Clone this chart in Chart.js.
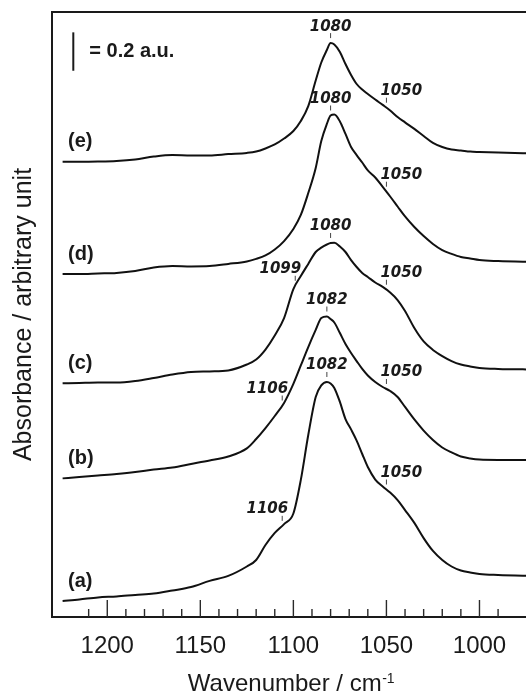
<!DOCTYPE html>
<html>
<head>
<meta charset="utf-8">
<title>IR spectra</title>
<script src="https://cdn.jsdelivr.net/npm/chart.js@4.4.1/dist/chart.umd.min.js"></script>
<style>
  html, body { margin: 0; padding: 0; background: #ffffff; overflow: hidden; }
  #wrap { position: relative; width: 526px; height: 693px; }
</style>
</head>
<body>
<div id="wrap"><canvas id="spectra"></canvas></div>
<script>
// Wavenumber grid (cm-1) shared by all traces
const wavenumbers = [1224, 1215, 1205, 1195, 1185, 1175, 1165, 1155, 1145, 1135, 1125, 1120, 1115, 1110, 1105,
  1100, 1096, 1092, 1088, 1085, 1082, 1080, 1078, 1075, 1072, 1069, 1066, 1063, 1060, 1056, 1052,
  1048, 1044, 1040, 1035, 1030, 1025, 1020, 1015, 1010, 1005, 1000, 990, 970];

// Absorbance traces (a.u.), stacked with vertical offsets for display
const traceA = [0.083, 0.091, 0.102, 0.107, 0.115, 0.122, 0.138, 0.156, 0.188, 0.214, 0.263, 0.297, 0.375, 0.438, 0.484,
  0.539, 0.714, 0.948, 1.146, 1.206, 1.224, 1.216, 1.193, 1.120, 1.031, 0.977, 0.919, 0.849, 0.781, 0.716, 0.680,
  0.648, 0.609, 0.557, 0.490, 0.411, 0.344, 0.297, 0.263, 0.242, 0.232, 0.224, 0.219, 0.214];
const traceB = [0.722, 0.729, 0.737, 0.745, 0.755, 0.768, 0.779, 0.797, 0.815, 0.836, 0.878, 0.927, 0.984, 1.047, 1.115,
  1.214, 1.310, 1.406, 1.495, 1.557, 1.565, 1.552, 1.534, 1.479, 1.422, 1.375, 1.333, 1.292, 1.258, 1.224, 1.198,
  1.177, 1.146, 1.094, 1.029, 0.971, 0.922, 0.883, 0.857, 0.836, 0.826, 0.820, 0.818, 0.818];
const traceC = [1.217, 1.219, 1.221, 1.221, 1.229, 1.245, 1.263, 1.276, 1.279, 1.284, 1.315, 1.341, 1.393, 1.466, 1.557,
  1.708, 1.776, 1.839, 1.901, 1.924, 1.940, 1.948, 1.949, 1.930, 1.901, 1.859, 1.823, 1.792, 1.771, 1.742, 1.719,
  1.690, 1.651, 1.594, 1.505, 1.435, 1.391, 1.359, 1.333, 1.315, 1.305, 1.297, 1.292, 1.289];
const traceD = [1.786, 1.786, 1.789, 1.792, 1.802, 1.820, 1.828, 1.826, 1.828, 1.839, 1.852, 1.865, 1.883, 1.914, 1.958,
  2.021, 2.094, 2.208, 2.339, 2.479, 2.568, 2.612, 2.617, 2.581, 2.516, 2.448, 2.406, 2.367, 2.326, 2.289, 2.240,
  2.190, 2.138, 2.086, 2.031, 1.984, 1.943, 1.911, 1.891, 1.875, 1.867, 1.859, 1.854, 1.849];
const traceE = [2.371, 2.371, 2.372, 2.375, 2.383, 2.398, 2.406, 2.404, 2.404, 2.411, 2.417, 2.424, 2.440, 2.461, 2.492,
  2.531, 2.583, 2.661, 2.794, 2.888, 2.953, 2.989, 2.982, 2.943, 2.880, 2.823, 2.776, 2.747, 2.724, 2.695, 2.667,
  2.638, 2.604, 2.576, 2.542, 2.505, 2.469, 2.448, 2.435, 2.430, 2.424, 2.422, 2.419, 2.414];

const traces = [traceA, traceB, traceC, traceD, traceE];
const traceNames = ['(a)', '(b)', '(c)', '(d)', '(e)'];

// Band positions marked above each trace (index into traces, wavenumber, which side the number sits)
const bandMarks = [
  { trace: 4, wn: 1080, side: 'center' },
  { trace: 4, wn: 1050, side: 'right' },
  { trace: 3, wn: 1080, side: 'center' },
  { trace: 3, wn: 1050, side: 'right' },
  { trace: 2, wn: 1099, side: 'left' },
  { trace: 2, wn: 1080, side: 'center' },
  { trace: 2, wn: 1050, side: 'right' },
  { trace: 1, wn: 1106, side: 'left' },
  { trace: 1, wn: 1082, side: 'center' },
  { trace: 1, wn: 1050, side: 'right' },
  { trace: 0, wn: 1106, side: 'left' },
  { trace: 0, wn: 1082, side: 'center' },
  { trace: 0, wn: 1050, side: 'right' }
];

// Intensity scale bar
const scaleBarSize = 0.2;
const scaleBarTop = 3.045;

const INK = '#1a1a1a';
const SANS = "'Liberation Sans', Arial, Helvetica, sans-serif";

function valueAt(values, wn) {
  for (let i = 0; i < wavenumbers.length - 1; i++) {
    const w0 = wavenumbers[i], w1 = wavenumbers[i + 1];
    if (wn <= w0 && wn >= w1) {
      const t = (w0 - wn) / (w0 - w1);
      return values[i] + t * (values[i + 1] - values[i]);
    }
  }
  return values[values.length - 1];
}

const decorations = {
  id: 'decorations',
  afterDatasetsDraw(chart) {
    const { ctx, chartArea: ca, scales: { x, y } } = chart;
    ctx.save();

    // frame (left, top, bottom)
    ctx.strokeStyle = INK;
    ctx.lineWidth = 2;
    ctx.beginPath();
    ctx.moveTo(ca.right + 4, ca.top);
    ctx.lineTo(ca.left, ca.top);
    ctx.lineTo(ca.left, ca.bottom);
    ctx.lineTo(ca.right + 4, ca.bottom);
    ctx.stroke();

    // inward tick marks: long every 50, short every 10
    ctx.strokeStyle = '#2a2a2a';
    ctx.lineWidth = 1.4;
    x.ticks.forEach(t => {
      const v = Math.round(t.value);
      if (Math.abs(t.value - v) > 1e-6 || v % 10 !== 0) return;
      const px = x.getPixelForValue(v);
      if (px <= ca.left + 2 || px >= ca.right) return;
      const len = v % 50 === 0 ? 17 : 8;
      ctx.beginPath();
      ctx.moveTo(px, ca.bottom);
      ctx.lineTo(px, ca.bottom - len);
      ctx.stroke();
    });

    // trace labels at the left end of each trace
    ctx.fillStyle = INK;
    ctx.font = 'bold 20px ' + SANS;
    ctx.textAlign = 'left';
    ctx.textBaseline = 'middle';
    traces.forEach((vals, i) => {
      ctx.fillText(traceNames[i], 68, y.getPixelForValue(vals[0]) - 20);
    });

    // band position marks
    ctx.font = "italic bold 15px 'DejaVu Sans', sans-serif";
    ctx.textBaseline = 'alphabetic';
    ctx.strokeStyle = '#444444';
    ctx.lineWidth = 1;
    bandMarks.forEach(m => {
      const px = x.getPixelForValue(m.wn);
      const py = y.getPixelForValue(valueAt(traces[m.trace], m.wn));
      const tb = py - 5, tt = tb - 5;
      ctx.beginPath();
      ctx.moveTo(px, tb);
      ctx.lineTo(px, tt);
      ctx.stroke();
      let tx = px;
      ctx.textAlign = 'center';
      if (m.side === 'right') { ctx.textAlign = 'left'; tx = px - 6; }
      if (m.side === 'left') { ctx.textAlign = 'right'; tx = px + 6; }
      ctx.fillText(String(m.wn), tx, tt - 2.5);
    });

    // intensity scale bar
    const barX = 73.3;
    const yTop = y.getPixelForValue(scaleBarTop);
    const yBot = y.getPixelForValue(scaleBarTop - scaleBarSize);
    ctx.strokeStyle = INK;
    ctx.lineWidth = 2;
    ctx.beginPath();
    ctx.moveTo(barX, yTop);
    ctx.lineTo(barX, yBot);
    ctx.stroke();
    ctx.font = 'bold 20px ' + SANS;
    ctx.textAlign = 'left';
    ctx.textBaseline = 'middle';
    ctx.fillText('= ' + scaleBarSize + ' a.u.', 89.3, (yTop + yBot) / 2);

    // x-axis title with superscript unit
    const main = 'Wavenumber / cm';
    const sup = '-1';
    ctx.font = '24px ' + SANS;
    const wMain = ctx.measureText(main).width;
    ctx.font = '14px ' + SANS;
    const wSup = ctx.measureText(sup).width;
    const startX = 291 - (wMain + wSup) / 2;
    ctx.textAlign = 'left';
    ctx.textBaseline = 'alphabetic';
    ctx.font = '24px ' + SANS;
    ctx.fillText(main, startX, 690.5);
    ctx.font = '14px ' + SANS;
    ctx.fillText(sup, startX + wMain + 0.5, 683);

    ctx.restore();
  }
};

const datasets = traces.map((vals, i) => ({
  label: traceNames[i],
  data: wavenumbers.map((w, k) => ({ x: w, y: vals[k] })),
  borderColor: '#111111',
  borderWidth: 2,
  pointRadius: 0,
  fill: false,
  cubicInterpolationMode: 'monotone'
}));

new Chart(document.getElementById('spectra'), {
  type: 'line',
  data: { datasets },
  options: {
    responsive: true,
    maintainAspectRatio: false,
    animation: false,
    layout: { padding: { top: 12, right: 0, bottom: 0, left: 0 } },
    plugins: { legend: { display: false }, tooltip: { enabled: false } },
    scales: {
      x: {
        type: 'linear',
        reverse: true,
        min: 975,
        max: 1229.7,
        grid: { display: false, drawTicks: false },
        border: { display: false },
        ticks: {
          stepSize: 10,
          autoSkip: false,
          maxRotation: 0,
          padding: 15,
          color: INK,
          font: { family: SANS, size: 24 },
          callback: v => (Math.abs(v % 50) < 1e-6 ? String(v) : '')
        },
        afterFit(scale) {
          // the plot runs off the right edge, so no room is kept for edge labels
          scale.height = 76;
          scale.paddingLeft = 0;
          scale.paddingRight = 0;
        }
      },
      y: {
        min: 0,
        max: 3.151,
        grid: { display: false, drawTicks: false },
        border: { display: false },
        ticks: { display: false },
        title: {
          display: true,
          text: 'Absorbance / arbitrary unit',
          color: INK,
          font: { family: SANS, size: 25 },
          padding: { top: 9, bottom: 0 }
        },
        afterFit(scale) { scale.width = 52; }
      }
    }
  },
  plugins: [decorations]
});
</script>
</body>
</html>
